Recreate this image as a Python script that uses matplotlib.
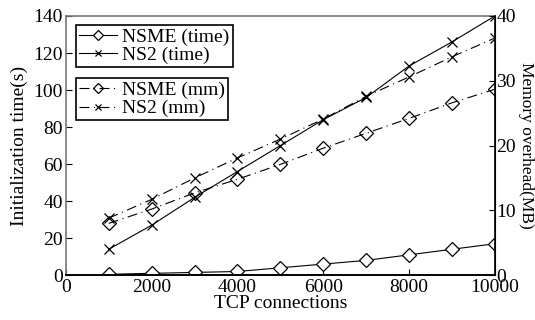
import matplotlib
matplotlib.use("Agg")
import matplotlib.pyplot as plt

plt.rcParams['font.family'] = ['Liberation Serif', 'DejaVu Serif']
plt.rcParams['font.size'] = 14

conns = [1000, 2000, 3000, 4000, 5000, 6000, 7000, 8000, 9000, 10000]
nsme_time = [0.5, 1, 1.5, 2, 4, 6, 8, 11, 14, 17]
ns2_time = [14, 27, 42, 56, 70, 84, 96, 113, 126, 140]
nsme_mm = [8.0, 10.2, 12.7, 14.8, 17.1, 19.6, 21.9, 24.2, 26.6, 28.7]
ns2_mm = [8.8, 11.7, 15.0, 18.1, 21.0, 24.1, 27.6, 30.6, 33.7, 36.6]

fig = plt.figure(figsize=(5.35, 3.2), dpi=100)
ax = fig.add_axes([0.123, 0.14, 0.802, 0.81])
ax2 = ax.twinx()

dd = (9, 4, 1, 4)
l1, = ax.plot(conns, nsme_time, 'k-', marker='D', mfc='white', mec='k',
              ms=7.5, mew=0.9, lw=0.8, label='NSME (time)')
l2, = ax.plot(conns, ns2_time, 'k-', marker='x', ms=7, mew=0.9, lw=0.8,
              label='NS2 (time)')
l3, = ax2.plot(conns, nsme_mm, 'k-.', dashes=dd, marker='D', mfc='none',
               mec='k', ms=7.5, mew=0.9, lw=0.8, label='NSME (mm)')
l4, = ax2.plot(conns, ns2_mm, 'k-.', dashes=dd, marker='x', ms=7, mew=0.9,
               lw=0.8, label='NS2 (mm)')

ax.set_xlim(0, 10000)
ax.set_ylim(0, 140)
ax2.set_ylim(0, 40)
ax.set_xticks(range(0, 10001, 2000))
ax.set_yticks(range(0, 141, 20))
ax2.set_yticks(range(0, 41, 10))
ax.tick_params(direction='in', length=4)
ax.tick_params(axis='x', pad=3)
ax.tick_params(axis='y', pad=2)
ax2.tick_params(direction='in', length=4, pad=1)

for s in ['left', 'top']:
    ax.spines[s].set_color('#777777')
    ax.spines[s].set_linewidth(1.2)
    ax2.spines[s].set_visible(False)
ax.spines['bottom'].set_linewidth(1.2)
ax2.spines['right'].set_linewidth(1.2)
ax2.spines['bottom'].set_linewidth(1.2)

ax.set_xlabel('TCP connections', labelpad=-1)
ax.set_ylabel('Initialization time(s)', labelpad=4)
ax2.set_ylabel('Memory overhead(MB)', rotation=270, labelpad=13,
               fontsize=12.5)

opts = dict(loc='upper left', fancybox=False, edgecolor='k', framealpha=1,
            handlelength=2.0, borderpad=0.15, labelspacing=0.05,
            handletextpad=0.25, borderaxespad=0, markerscale=0.65)
leg1 = ax2.legend(handles=[l1, l2], bbox_to_anchor=(0.023, 0.965), **opts)
leg1.get_frame().set_linewidth(1.2)
ax2.add_artist(leg1)
leg2 = ax2.legend(handles=[l3, l4], bbox_to_anchor=(0.023, 0.76), **opts)
leg2.get_frame().set_linewidth(1.2)

fig.savefig('out.png', dpi=100)
